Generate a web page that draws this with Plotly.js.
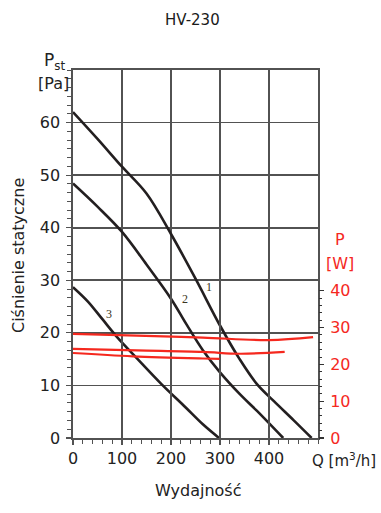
<!DOCTYPE html>
<html>
<head>
<meta charset="utf-8">
<script src="https://cdn.plot.ly/plotly-3.0.1.min.js"></script>
<style>html,body{margin:0;padding:0;background:#fff;}#chart{width:381px;height:513px;}</style>
</head>
<body>
<div id="chart"></div>
<script>
// Static pressure curves (Q in m3/h, Pst in Pa)
const q1 = [0, 50, 100, 150, 200, 250, 300, 340, 375, 410, 450, 487];
const p1 = [62, 56.9, 51.6, 46.5, 38.8, 30.3, 21.4, 15, 10.3, 7, 3.4, 0];
const q2 = [0, 50, 100, 150, 200, 231, 265, 300, 341, 375, 429];
const p2 = [48.4, 44, 39.2, 33, 26.5, 21.7, 16.7, 12.5, 8.3, 5.2, 0];
const q3 = [0, 30, 60, 90, 130, 180, 230, 265, 298];
const p3 = [28.7, 26, 22.6, 19.2, 15.2, 10.3, 5.8, 2.6, 0];
// Power curves (Q in m3/h, P in W)
const qTop = [0, 130, 265, 400, 490];
const wTop = [28.3, 27.8, 27.3, 26.6, 27.4];
const qMid = [0, 130, 265, 341, 432];
const wMid = [24.2, 23.8, 23.4, 22.9, 23.4];
const qBot = [0, 122, 265, 299];
const wBot = [23.1, 22.2, 21.6, 21.5];
// Tick labels
const xTicks = [0, 100, 200, 300, 400];
const yTicks = [0, 10, 20, 30, 40, 50, 60];
const y2Ticks = [0, 10, 20, 30, 40];

const black = '#231f20', red = '#f5281e', grid = '#525252';
const FONT = 'DejaVu Sans, Liberation Sans, Arial, sans-serif';

function blackTrace(x, y) {
  return {x: x, y: y, xaxis: 'x', yaxis: 'y', mode: 'lines', type: 'scatter',
    line: {color: black, width: 2.6, shape: 'spline', smoothing: 1}, hoverinfo: 'skip'};
}
function redTrace(x, y) {
  return {x: x, y: y, xaxis: 'x', yaxis: 'y2', mode: 'lines', type: 'scatter',
    line: {color: red, width: 2.2, shape: 'spline', smoothing: 1}, hoverinfo: 'skip'};
}
const data = [
  redTrace(qTop, wTop), redTrace(qMid, wMid), redTrace(qBot, wBot),
  blackTrace(q1, p1), blackTrace(q2, p2), blackTrace(q3, p3)
];

// Plot area: x 73..318 px, y 70..438 px
function px(x) { return (x - 73) / 245; }
function py(y) { return (438 - y) / 368; }
function ann(text, x, y, size, color, extra) {
  return Object.assign({text: text, x: px(x), y: py(y), xref: 'paper', yref: 'paper',
    showarrow: false, xanchor: 'center', yanchor: 'middle',
    font: {family: FONT, size: size, color: color}}, extra || {});
}
const serif = 'Liberation Serif, DejaVu Serif, serif';
const numCol = '#3a3520';

const layout = {
  width: 381, height: 513,
  margin: {l: 73, r: 63, t: 70, b: 75},
  paper_bgcolor: '#fff', plot_bgcolor: 'rgba(0,0,0,0)',
  showlegend: false,
  xaxis: {
    range: [0, 500], tickvals: xTicks, ticktext: xTicks.map(String),
    showgrid: true, gridcolor: grid, gridwidth: 1.6, zeroline: false,
    showline: true, mirror: true, linecolor: grid, linewidth: 1.6,
    ticks: 'outside', ticklen: 5, tickcolor: grid, tickwidth: 1.2,
    ticklabelstandoff: 0,
    minor: {dtick: 20, ticks: 'outside', ticklen: 4, tickcolor: grid, tickwidth: 1, showgrid: false},
    tickfont: {family: FONT, size: 16, color: '#222'}
  },
  yaxis: {
    range: [0, 70], tickvals: yTicks, ticktext: yTicks.map(String),
    showgrid: true, gridcolor: grid, gridwidth: 1.6, zeroline: false,
    showline: true, mirror: true, linecolor: grid, linewidth: 1.6,
    ticks: 'outside', ticklen: 5, tickcolor: grid, tickwidth: 1.2,
    ticklabelstandoff: 3,
    minor: {dtick: 10 / 6, ticks: 'outside', ticklen: 4, tickcolor: grid, tickwidth: 1, showgrid: false},
    tickfont: {family: FONT, size: 16, color: '#222'}
  },
  yaxis2: {
    domain: [0, 0.4], range: [0, 40], anchor: 'x', side: 'right',
    tickvals: y2Ticks, ticktext: y2Ticks.map(String),
    showgrid: false, zeroline: false, showline: false,
    ticks: 'outside', ticklen: 5, tickcolor: '#333', tickwidth: 1.2,
    ticklabelstandoff: 3,
    minor: {dtick: 2, ticks: 'outside', ticklen: 3, tickcolor: '#333', tickwidth: 1, showgrid: false},
    tickfont: {family: FONT, size: 16, color: red}
  },
  annotations: [
    ann('HV-230', 192, 20, 15, '#1a1a1a'),
    ann('P<sub>st</sub>', 54, 61, 17, '#222'),
    ann('[Pa]', 53, 84, 16, '#222'),
    ann('Ciśnienie statyczne', 18, 256, 16, '#222', {textangle: -90}),
    ann('Wydajność', 198, 490, 16, '#222'),
    ann('Q [m<sup>3</sup>/h]', 344, 460, 15, '#222'),
    ann('P', 340, 239, 16, red),
    ann('[W]', 340, 263, 16, red),
    ann('1', 209, 287, 12, numCol, {font: {family: serif, size: 12, color: numCol}}),
    ann('2', 185, 299, 12, numCol, {font: {family: serif, size: 12, color: numCol}}),
    ann('3', 109, 314, 12, numCol, {font: {family: serif, size: 12, color: numCol}})
  ]
};

Plotly.newPlot('chart', data, layout, {displayModeBar: false, staticPlot: true});
</script>
</body>
</html>
